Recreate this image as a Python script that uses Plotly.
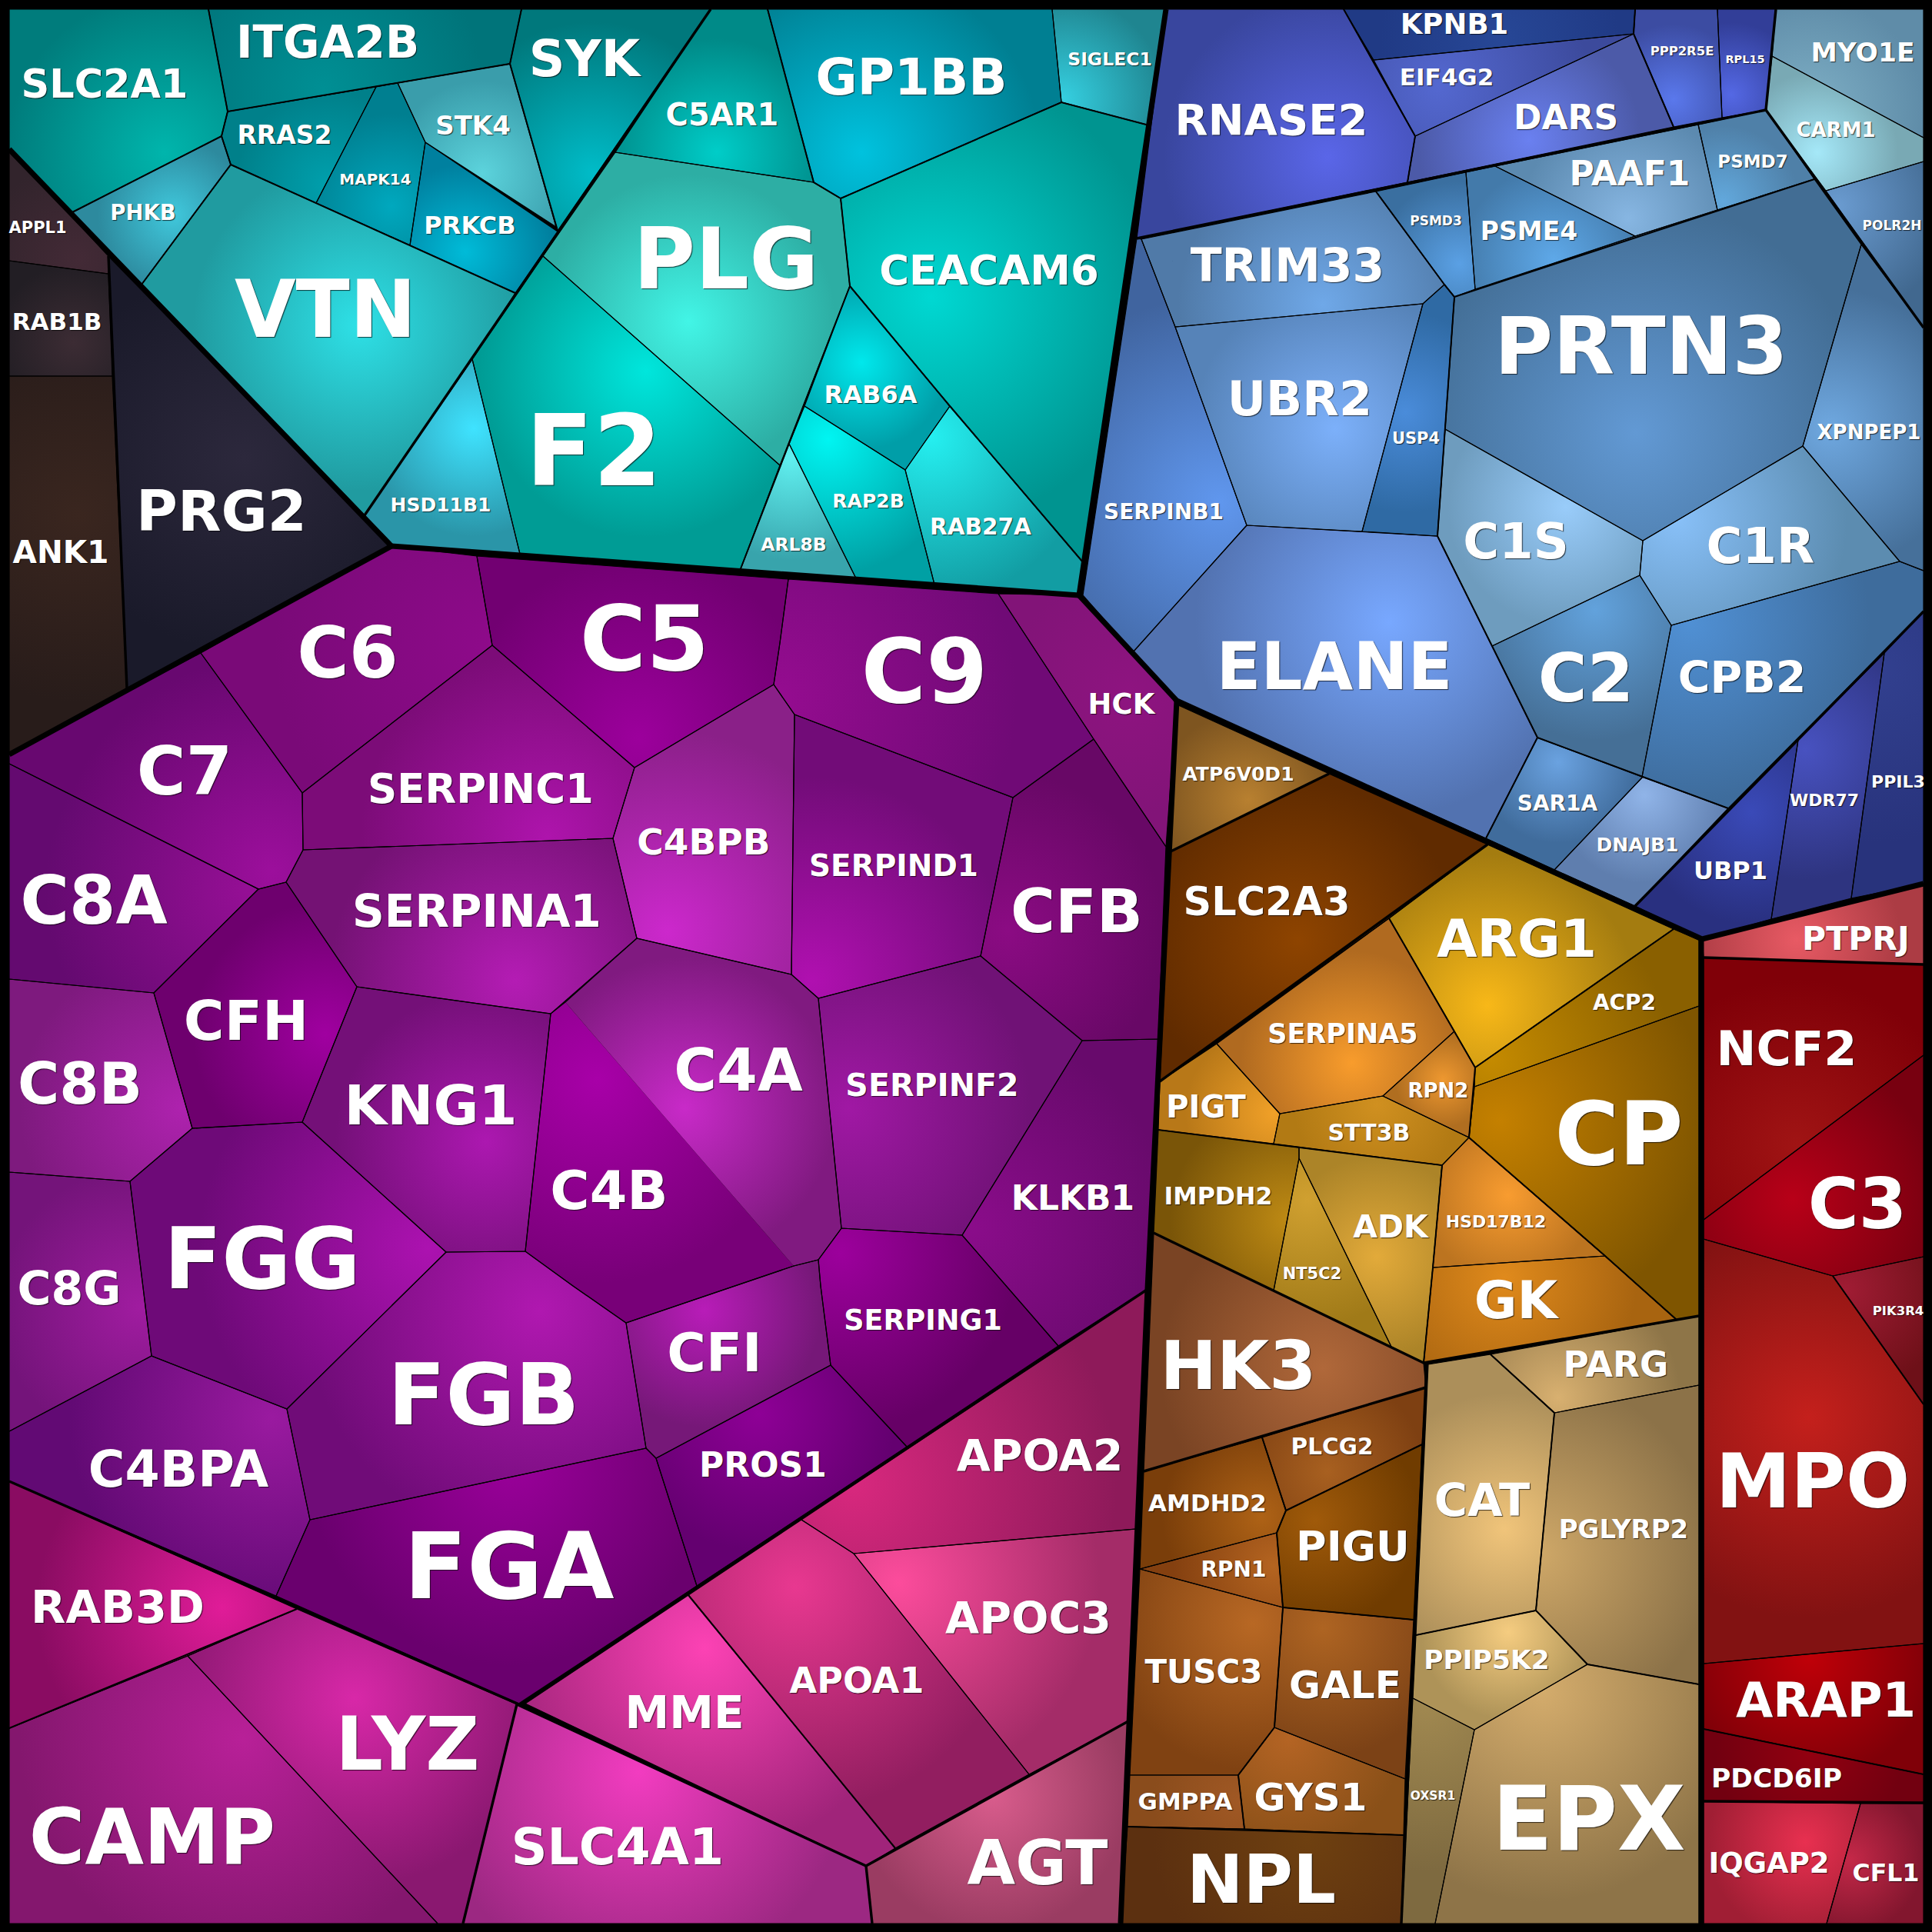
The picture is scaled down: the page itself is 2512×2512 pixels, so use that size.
import numpy as np
import plotly.graph_objects as go

# Voronoi treemap: every cell is stored as its vertices, in reference pixels
outlines = {
    "SLC2A1": [(12,12),(271,12),(296,145),(288,177),(94,276),(12,194)],
    "ITGA2B": [(271,12),(678,12),(663,83),(296,145)],
    "SYK": [(678,12),(924,12),(725,300),(663,83)],
    "STK4": [(517,108),(663,83),(723,295),(553,185)],
    "MAPK14": [(489,113),(517,108),(553,185),(533,319),(411,264)],
    "RRAS2": [(296,145),(489,113),(411,264),(300,214),(288,177)],
    "PRKCB": [(553,185),(725,301),(670,381),(533,319)],
    "PHKB": [(288,177),(300,214),(184,370),(94,276)],
    "VTN": [(300,214),(411,264),(533,319),(670,381),(614,467),(474,670),(184,370)],
    "HSD11B1": [(614,467),(676,720),(509,710),(474,670)],
    "APPL1": [(12,194),(141,333),(141,356),(12,339)],
    "RAB1B": [(12,339),(141,356),(146,489),(12,489)],
    "ANK1": [(12,489),(146,489),(165,895),(12,981)],
    "PRG2": [(141,333),(509,710),(165,895)],
    "C5AR1": [(924,12),(998,12),(1058,237),(800,198)],
    "GP1BB": [(998,12),(1368,12),(1380,133),(1093,258),(1058,237)],
    "SIGLEC1": [(1368,12),(1516,12),(1494,163),(1380,133)],
    "CEACAM6": [(1093,258),(1380,133),(1494,163),(1408,731),(1235,528),(1105,372)],
    "PLG": [(800,198),(1058,237),(1093,258),(1105,372),(1014,605),(706,333)],
    "F2": [(706,333),(1014,605),(962,742),(676,720),(614,467)],
    "RAB6A": [(1105,372),(1235,528),(1177,611),(1046,528)],
    "RAP2B": [(1046,528),(1177,611),(1215,760),(1113,752),(1026,577)],
    "ARL8B": [(1026,577),(1113,752),(962,742)],
    "RAB27A": [(1235,528),(1408,731),(1403,774),(1215,760),(1177,611)],
    "RNASE2": [(1516,12),(1747,12),(1840,177),(1830,237),(1478,310)],
    "KPNB1": [(1747,12),(2126,12),(2124,44),(1786,78)],
    "EIF4G2": [(1786,78),(2124,44),(1840,177)],
    "DARS": [(1840,177),(2124,44),(2176,165),(1830,237)],
    "PPP2R5E": [(2126,12),(2233,12),(2239,153),(2176,165),(2124,44)],
    "RPL15": [(2233,12),(2309,12),(2296,143),(2239,153)],
    "MYO1E": [(2309,12),(2501,12),(2501,179),(2304,73)],
    "CARM1": [(2304,73),(2501,179),(2501,210),(2374,248),(2296,143)],
    "POLR2H": [(2374,248),(2501,210),(2501,426)],
    "PAAF1": [(2208,162),(2233,273),(2126,307),(1944,216)],
    "PSMD7": [(2208,162),(2296,143),(2359,233),(2233,273)],
    "PSME4": [(1944,216),(2126,307),(1918,376),(1906,224)],
    "PSMD3": [(1789,249),(1906,224),(1918,376),(1891,386),(1878,370)],
    "TRIM33": [(1484,311),(1789,249),(1878,370),(1850,395),(1528,425)],
    "UBR2": [(1528,425),(1850,395),(1771,691),(1621,683)],
    "USP4": [(1850,395),(1878,370),(1891,386),(1869,697),(1771,691)],
    "SERPINB1": [(1478,310),(1484,311),(1528,425),(1621,683),(1473,848),(1408,774)],
    "ELANE": [(1621,683),(1869,697),(1940,840),(1999,959),(1932,1090),(1530,911),(1473,848)],
    "SAR1A": [(1999,959),(2136,1010),(2021,1131),(1932,1090)],
    "DNAJB1": [(2136,1010),(2247,1051),(2126,1178),(2021,1131)],
    "C2": [(1940,840),(2132,748),(2173,813),(2135,1010),(1999,959)],
    "CPB2": [(2173,813),(2470,730),(2501,742),(2501,795),(2247,1051),(2135,1010)],
    "C1S": [(1879,558),(2136,703),(2132,748),(1940,840),(1869,697)],
    "C1R": [(2136,703),(2344,580),(2470,730),(2173,813),(2132,748)],
    "XPNPEP1": [(2420,318),(2501,426),(2501,742),(2470,730),(2344,580)],
    "PRTN3": [(1891,386),(2126,307),(2233,273),(2359,233),(2420,318),(2344,580),(2136,703),(1879,558)],
    "UBP1": [(2338,962),(2303,1195),(2213,1221),(2126,1178)],
    "WDR77": [(2338,962),(2450,849),(2407,1168),(2303,1195)],
    "PPIL3": [(2450,849),(2501,795),(2501,1149),(2407,1168)],
    "PTPRJ": [(2213,1221),(2501,1149),(2501,1254),(2215,1245)],
    "NCF2": [(2215,1245),(2501,1254),(2501,1372),(2215,1586)],
    "C3": [(2215,1586),(2501,1372),(2501,1634),(2383,1659),(2215,1611)],
    "PIK3R4": [(2383,1659),(2501,1634),(2501,1826)],
    "MPO": [(2215,1611),(2383,1659),(2501,1826),(2501,2137),(2215,2163)],
    "ARAP1": [(2215,2163),(2501,2137),(2501,2307),(2215,2248)],
    "PDCD6IP": [(2215,2248),(2501,2307),(2501,2344),(2215,2342)],
    "IQGAP2": [(2215,2342),(2419,2345),(2375,2501),(2215,2501)],
    "CFL1": [(2419,2345),(2501,2345),(2501,2501),(2375,2501)],
    "ATP6V0D1": [(1530,916),(1728,1006),(1522,1107)],
    "SLC2A3": [(1522,1107),(1728,1006),(1934,1098),(1806,1194),(1508,1406)],
    "PIGT": [(1508,1406),(1582,1357),(1664,1448),(1656,1487),(1506,1469)],
    "SERPINA5": [(1582,1357),(1806,1194),(1891,1341),(1798,1425),(1664,1448)],
    "ARG1": [(1806,1194),(1934,1098),(2176,1208),(1918,1388)],
    "ACP2": [(2176,1208),(2209,1222),(2209,1308),(1917,1413),(1918,1388)],
    "CP": [(1917,1413),(2209,1308),(2209,1711),(2180,1716),(2087,1633),(1910,1479)],
    "RPN2": [(1891,1341),(1918,1388),(1917,1413),(1910,1479),(1798,1425)],
    "STT3B": [(1664,1448),(1798,1425),(1910,1479),(1875,1515),(1656,1487)],
    "HSD17B12": [(1910,1479),(2087,1633),(1863,1648),(1875,1515)],
    "GK": [(1863,1648),(2087,1633),(2180,1716),(1851,1772)],
    "IMPDH2": [(1506,1469),(1689,1492),(1689,1506),(1656,1678),(1500,1603)],
    "NT5C2": [(1689,1506),(1809,1751),(1656,1678)],
    "ADK": [(1689,1492),(1875,1515),(1863,1648),(1851,1772),(1809,1751),(1689,1506)],
    "HK3": [(1500,1603),(1851,1772),(1854,1804),(1487,1913)],
    "PLCG2": [(1641,1869),(1854,1804),(1849,1878),(1672,1964)],
    "AMDHD2": [(1487,1913),(1641,1869),(1672,1964),(1660,1993),(1482,2040)],
    "RPN1": [(1482,2040),(1660,1993),(1668,2090)],
    "PIGU": [(1672,1964),(1849,1878),(1838,2106),(1668,2090),(1660,1993)],
    "TUSC3": [(1482,2040),(1668,2090),(1657,2246),(1610,2308),(1469,2308)],
    "GALE": [(1668,2090),(1838,2106),(1827,2313),(1657,2246)],
    "GYS1": [(1657,2246),(1827,2313),(1825,2386),(1618,2378),(1610,2308)],
    "GMPPA": [(1469,2308),(1610,2308),(1618,2378),(1466,2375)],
    "NPL": [(1466,2375),(1618,2378),(1825,2386),(1822,2501),(1457,2501)],
    "PARG": [(1938,1761),(2209,1711),(2209,1801),(2021,1837)],
    "CAT": [(1857,1774),(1938,1761),(2021,1837),(1997,2094),(1841,2126)],
    "PGLYRP2": [(2021,1837),(2209,1801),(2209,2190),(2064,2164),(1997,2094)],
    "PPIP5K2": [(1841,2126),(1997,2094),(2064,2164),(1917,2249),(1837,2208)],
    "OXSR1": [(1837,2208),(1917,2249),(1866,2501),(1822,2501)],
    "EPX": [(1917,2249),(2064,2164),(2209,2190),(2209,2501),(1866,2501)],
    "C6": [(509,710),(620,723),(640,839),(393,1031),(261,849)],
    "C5": [(620,723),(1025,753),(1014,836),(1006,890),(825,998),(640,839)],
    "C9": [(1025,753),(1298,772),(1422,961),(1317,1037),(1033,929),(1006,890),(1014,836)],
    "HCK": [(1298,772),(1403,774),(1530,911),(1516,1101),(1422,961)],
    "CFB": [(1422,961),(1516,1101),(1506,1351),(1407,1353),(1275,1243),(1317,1037)],
    "SERPIND1": [(1033,929),(1317,1037),(1275,1243),(1064,1298),(1029,1267)],
    "C4BPB": [(825,998),(1006,890),(1033,929),(1029,1267),(828,1220),(797,1090)],
    "SERPINC1": [(393,1031),(640,839),(825,998),(797,1090),(394,1105)],
    "C7": [(261,849),(393,1031),(394,1105),(372,1147),(336,1156),(12,993),(12,981)],
    "SERPINA1": [(394,1105),(797,1090),(828,1220),(716,1318),(464,1283),(372,1147)],
    "C8A": [(12,993),(336,1156),(200,1291),(12,1273)],
    "CFH": [(336,1156),(372,1147),(464,1283),(393,1459),(250,1467),(200,1291)],
    "C8B": [(12,1273),(200,1291),(250,1467),(169,1536),(12,1524)],
    "KNG1": [(464,1283),(716,1318),(683,1627),(580,1628),(393,1459)],
    "FGG": [(250,1467),(393,1459),(580,1628),(373,1832),(197,1763),(169,1536)],
    "C8G": [(12,1524),(169,1536),(197,1763),(12,1861)],
    "C4BPA": [(12,1861),(197,1763),(373,1832),(403,1976),(359,2075),(12,1926)],
    "FGB": [(580,1628),(683,1627),(745,1672),(814,1720),(840,1883),(403,1976),(373,1832)],
    "FGA": [(403,1976),(840,1883),(853,1896),(906,2062),(675,2216),(359,2075)],
    # first and last vertex of C4A and C4B close along the edge that has no stroke
    "C4B": [(1032,1646),(814,1720),(745,1672),(683,1627),(716,1318),(735,1303)],
    "C4A": [(735,1303),(828,1220),(1029,1267),(1064,1298),(1094,1597),(1064,1638),(1032,1646)],
    "SERPINF2": [(1064,1298),(1275,1243),(1407,1353),(1251,1606),(1094,1597)],
    "KLKB1": [(1407,1353),(1506,1351),(1492,1676),(1376,1750),(1251,1606)],
    "SERPING1": [(1094,1597),(1251,1606),(1376,1750),(1179,1881),(1080,1775),(1067,1672),(1064,1638)],
    "CFI": [(1032,1646),(1064,1638),(1067,1672),(1080,1775),(853,1896),(840,1883),(814,1720)],
    "PROS1": [(853,1896),(1080,1775),(1179,1881),(906,2062)],
    "APOA2": [(1491,1677),(1477,1988),(1110,2020),(1042,1976)],
    "APOC3": [(1110,2020),(1477,1988),(1467,2238),(1338,2307)],
    "APOA1": [(1042,1976),(1110,2020),(1338,2307),(1164,2403),(895,2074)],
    "MME": [(895,2074),(1164,2403),(1126,2426),(683,2215)],
    "SLC4A1": [(672,2216),(1126,2426),(1134,2501),(602,2501)],
    "AGT": [(1126,2426),(1467,2238),(1457,2501),(1134,2501)],
    "RAB3D": [(12,1926),(386,2092),(244,2153),(12,2247)],
    "LYZ": [(386,2092),(672,2216),(602,2501),(569,2501),(244,2153)],
    "CAMP": [(12,2247),(244,2153),(569,2501),(12,2501)],
}

# where each cell's radial shading peaks
glow_pos = {
    "SLC2A1": (214,198), "ITGA2B": (420,115), "SYK": (771,225), "STK4": (627,225), "MAPK14": (509,268),
    "RRAS2": (428,241), "PRKCB": (605,327), "PHKB": (225,279), "VTN": (466,423), "HSD11B1": (616,557),
    "APPL1": (102,337), "RAB1B": (96,445), "ANK1": (102,670), "PRG2": (316,595), "C5AR1": (932,198),
    "GP1BB": (1120,198), "SIGLEC1": (1382,129), "CEACAM6": (1211,386), "PLG": (895,418), "F2": (840,482),
    "RAB6A": (1120,471), "RAP2B": (1077,571), "ARL8B": (1029,595), "RAB27A": (1211,568),
    "RNASE2": (1726,204), "KPNB1": (1950,50), "EIF4G2": (1870,112), "DARS": (1988,182), "PPP2R5E": (2176,129),
    "RPL15": (2251,123), "MYO1E": (2352,145), "CARM1": (2363,198), "POLR2H": (2390,268), "PAAF1": (2117,284),
    "PSMD7": (2240,262), "PSME4": (2020,337), "PSMD3": (1897,343), "TRIM33": (1720,396), "UBR2": (1736,557),
    "USP4": (1827,536), "SERPINB1": (1586,653), "ELANE": (1806,809), "SAR1A": (2026,991), "DNAJB1": (2138,1034),
    "C2": (2074,793), "CPB2": (2197,809), "C1S": (2036,659), "C1R": (2181,675), "XPNPEP1": (2379,557),
    "PRTN3": (2127,562), "UBP1": (2277,1056), "WDR77": (2347,975), "PPIL3": (2440,870),
    "PTPRJ": (2336,1222), "NCF2": (2336,1489), "C3": (2331,1559), "PIK3R4": (2400,1677), "MPO": (2352,1843),
    "ARAP1": (2352,2154), "PDCD6IP": (2352,2280), "IQGAP2": (2347,2395), "CFL1": (2406,2417),
    "ATP6V0D1": (1623,1040), "SLC2A3": (1688,1222), "PIGT": (1656,1447), "SERPINA5": (1758,1382), "ARG1": (1934,1307),
    "ACP2": (1940,1377), "CP": (1950,1457), "RPN2": (1876,1404), "STT3B": (1790,1436), "HSD17B12": (1961,1554),
    "GK": (1956,1661), "IMPDH2": (1676,1586), "NT5C2": (1700,1560), "ADK": (1790,1634), "HK3": (1720,1779),
    "PLCG2": (1726,1913), "AMDHD2": (1640,1972), "RPN1": (1656,2036), "PIGU": (1710,1977), "TUSC3": (1629,2111),
    "GALE": (1720,2117), "GYS1": (1676,2261), "GMPPA": (1610,2342), "NPL": (1700,2390),
    "PARG": (2026,1817), "CAT": (1956,1988), "PGLYRP2": (1999,2020), "PPIP5K2": (1961,2122), "OXSR1": (1854,2218),
    "EPX": (2004,2197), "C6": (640,840), "C5": (830,960), "C9": (1010,905), "HCK": (1470,900), "CFB": (1310,1210),
    "SERPIND1": (1056,1275), "C4BPB": (868,1211), "SERPINC1": (712,1088), "C7": (354,1133), "SERPINA1": (670,1275),
    "C8A": (321,1157), "CFH": (423,1345), "C8B": (236,1441), "KNG1": (632,1484), "FGG": (557,1623), "C8G": (182,1700),
    "C4BPA": (354,1843), "FGB": (702,1704), "FGA": (664,1902), "C4B": (777,1404), "C4A": (890,1441),
    "SERPINF2": (1104,1441), "KLKB1": (1264,1596), "SERPING1": (1093,1629), "CFI": (916,1704), "PROS1": (986,1838),
    "APOA2": (1109,1929), "APOC3": (1168,2058), "APOA1": (1034,2063), "MME": (916,2143), "SLC4A1": (830,2304),
    "AGT": (1291,2336), "RAB3D": (289,2090), "LYZ": (461,2208), "CAMP": (316,2261),
}

# colour at the peak, colour at the far rim
glow_color = {
    "SLC2A1": ("#00B5AC","#007C7C"), "ITGA2B": ("#008F94","#00747A"), "SYK": ("#00BCC8","#00787C"),
    "STK4": ("#5CD3DC","#3A9DAB"), "MAPK14": ("#00A8BE","#007F90"), "RRAS2": ("#00A0AD","#00808A"),
    "PRKCB": ("#00BBD8","#00809F"), "PHKB": ("#40C8DC","#2D8A9E"), "VTN": ("#2EE0E6","#209BA0"),
    "HSD11B1": ("#3FE3FF","#2A95A8"), "APPL1": ("#432A36","#32242C"), "RAB1B": ("#3C2C34","#221E24"),
    "ANK1": ("#3A261F","#281C1A"), "PRG2": ("#2C283C","#1A1A2A"), "C5AR1": ("#00CDC8","#008A88"),
    "GP1BB": ("#00C2DE","#007F92"), "SIGLEC1": ("#35CFE0","#1F8590"), "CEACAM6": ("#00D8D2","#009490"),
    "PLG": ("#42F5E6","#2DAEA4"), "F2": ("#00E6DC","#009C95"), "RAB6A": ("#00E8EC","#009EA8"),
    "RAP2B": ("#00F5F2","#00A0A4"), "ARL8B": ("#60F0F0","#38A4AC"), "RAB27A": ("#25EFF0","#129DA3"),
    "RNASE2": ("#5A66E8","#39469E"), "KPNB1": ("#274796","#203A85"), "EIF4G2": ("#5468D0","#3C4A9C"),
    "DARS": ("#6A80F0","#4C5AA8"), "PPP2R5E": ("#5A78EC","#3C4CA2"), "RPL15": ("#5468E4","#323E98"),
    "MYO1E": ("#7FB0C6","#5F8CA8"), "CARM1": ("#A5E8F8","#79A9B4"), "POLR2H": ("#6A9BD0","#41688F"),
    "PAAF1": ("#87B6E2","#5C8AB0"), "PSMD7": ("#62A8DC","#4F80A8"), "PSME4": ("#5EA8E8","#437AAA"),
    "PSMD3": ("#5AA0E4","#3A6FA0"), "TRIM33": ("#6FA8E8","#507AA8"), "UBR2": ("#7CB0FA","#5683B8"),
    "USP4": ("#4A8CDA","#2F6AA4"), "SERPINB1": ("#6097EE","#40649F"), "ELANE": ("#78A8FF","#5272B0"),
    "SAR1A": ("#6AA2E0","#406C9C"), "DNAJB1": ("#90B4E8","#5F7EAE"), "C2": ("#62A2DC","#456F96"),
    "CPB2": ("#5090D4","#3E6C9C"), "C1S": ("#99CCFA","#6E9CBE"), "C1R": ("#88C0F8","#5C8CB0"),
    "XPNPEP1": ("#6FA8E0","#46709A"), "PRTN3": ("#6299D4","#426D94"), "UBP1": ("#3A4AB8","#293080"),
    "WDR77": ("#4852C0","#2E3480"), "PPIL3": ("#32408F","#28337C"), "PTPRJ": ("#E85A64","#AC3C44"),
    "NCF2": ("#A01414","#800008"), "C3": ("#B80018","#780010"), "PIK3R4": ("#A01C34","#6E1018"),
    "MPO": ("#C4201C","#821212"), "ARAP1": ("#C00008","#800008"), "PDCD6IP": ("#920010","#720010"),
    "IQGAP2": ("#E83050","#A01E34"), "CFL1": ("#C42848","#82162E"), "ATP6V0D1": ("#B88030","#7E5520"),
    "SLC2A3": ("#8E4400","#602B00"), "PIGT": ("#F0A028","#B87818"), "SERPINA5": ("#F89C2C","#B06A20"),
    "ARG1": ("#F8B818","#A47C10"), "ACP2": ("#C48A00","#8A6000"), "CP": ("#C48000","#7F5500"),
    "RPN2": ("#EE9830","#B06E20"), "STT3B": ("#D09020","#B27A14"), "HSD17B12": ("#F89C30","#BC7420"),
    "GK": ("#E08A1C","#A86410"), "IMPDH2": ("#BE8A14","#7A5508"), "NT5C2": ("#D0A030","#A07A18"),
    "ADK": ("#E2AA3A","#AC8428"), "HK3": ("#B0683A","#7A4424"), "PLCG2": ("#A86020","#7E4012"),
    "AMDHD2": ("#AE6216","#7A3E0A"), "RPN1": ("#B46420","#844010"), "PIGU": ("#A05A0A","#703C00"),
    "TUSC3": ("#B86824","#804212"), "GALE": ("#AE6422","#7C4216"), "GYS1": ("#B46424","#8A5018"),
    "GMPPA": ("#A05824","#8A4C1C"), "NPL": ("#6E4010","#5C3010"), "PARG": ("#D8B070","#8E7548"),
    "CAT": ("#F0C47A","#AC8F5A"), "PGLYRP2": ("#CFA868","#8C7248"), "PPIP5K2": ("#F5CC80","#AE9358"),
    "OXSR1": ("#A08850","#7E6A40"), "EPX": ("#D4AC6C","#8E7448"), "C6": ("#8E0A8A","#7A0A78"),
    "C5": ("#9C009C","#720072"), "C9": ("#950C90","#700A76"), "HCK": ("#8E1480","#821478"),
    "CFB": ("#8B0B83","#680866"), "SERPIND1": ("#B010B0","#720C78"), "C4BPB": ("#CC28CC","#8A2088"),
    "SERPINC1": ("#AE14AC","#7C0C78"), "C7": ("#9C0F9C","#680870"), "SERPINA1": ("#B41CB4","#741274"),
    "C8A": ("#950F95","#640A70"), "CFH": ("#A000A0","#6E006E"), "C8B": ("#AE22AE","#7E1A7E"),
    "KNG1": ("#AC18B0","#741078"), "FGG": ("#AC12B0","#6E0A78"), "C8G": ("#A01CA0","#74147A"),
    "C4BPA": ("#9A1AA0","#620A74"), "FGB": ("#B018B0","#700C78"), "FGA": ("#9A009A","#6A006E"),
    "C4B": ("#A800A8","#780078"), "C4A": ("#C82AC8","#801A80"), "SERPINF2": ("#A018A4","#701276"),
    "KLKB1": ("#8A0C8A","#680A6C"), "SERPING1": ("#9C009C","#660066"), "CFI": ("#B81CB8","#761878"),
    "PROS1": ("#8E0096","#640070"), "APOA2": ("#D8287E","#8E1A5A"), "APOC3": ("#FC4C9C","#A42C68"),
    "APOA1": ("#E83890","#921E60"), "MME": ("#FC42B4","#A0247A"), "SLC4A1": ("#F23CC0","#9C2882"),
    "AGT": ("#D85C8C","#9A3C62"), "RAB3D": ("#E01C98","#8A0C62"), "LYZ": ("#D828A8","#8A1870"),
    "CAMP": ("#B82098","#84176E"),
}

# label centre x, centre y, font size
labels = {
    "SLC2A1": (136,109,51), "ITGA2B": (426,54,58), "SYK": (760,76,65), "STK4": (615,163,34), "RRAS2": (370,175,33),
    "MAPK14": (488,233,20), "PHKB": (186,276,27.5), "PRKCB": (611,292,32), "APPL1": (49,295,21), "RAB1B": (74,418,31),
    "VTN": (423,401,103), "PRG2": (288,664,73.5), "ANK1": (79,717,40.5), "HSD11B1": (573,656,25), "F2": (772,585,128),
    "C5AR1": (939,149,40), "GP1BB": (1185,99,66), "SIGLEC1": (1443,77,23.5), "PLG": (944,335,110), "CEACAM6": (1286,351,53),
    "RAB6A": (1132,512,32), "RAP2B": (1129,651,25), "RAB27A": (1275,684,29.5), "ARL8B": (1032,708,23.5),
    "RNASE2": (1653,155,56), "KPNB1": (1891,31,37), "EIF4G2": (1881,100,31), "DARS": (2036,152,44), "PPP2R5E": (2187,66,16.4),
    "RPL15": (2269,77,14.5), "MYO1E": (2422,68,34.5), "CARM1": (2387,169,26), "PAAF1": (2119,225,44), "PSMD7": (2279,210,23),
    "PSMD3": (1867,287,17), "PSME4": (1988,300,33), "TRIM33": (1674,344,60), "POLR2H": (2460,293,17), "PRTN3": (2134,449,104),
    "UBR2": (1690,518,62), "USP4": (1841,569,21), "XPNPEP1": (2430,562,26), "C1S": (1971,703,64), "C1R": (2289,709,64),
    "SERPINB1": (1513,665,28), "ELANE": (1735,865,85), "C2": (2062,881,87), "CPB2": (2265,880,57), "SAR1A": (2025,1044,28),
    "DNAJB1": (2129,1098,25), "UBP1": (2250,1131,32), "WDR77": (2372,1040,22), "PPIL3": (2468,1016,22), "PTPRJ": (2413,1220,42.5),
    "NCF2": (2323,1363,62), "C3": (2415,1565,90), "PIK3R4": (2468,1704,16.5), "MPO": (2357,1925,98), "ARAP1": (2374,2209,62.5),
    "PDCD6IP": (2310,2312,34.5), "IQGAP2": (2300,2422,37), "CFL1": (2452,2435,31.6), "ATP6V0D1": (1610,1006,25),
    "SLC2A3": (1647,1172,51), "ARG1": (1972,1220,68), "ACP2": (2112,1303,28), "SERPINA5": (1746,1343,35), "RPN2": (1870,1418,26),
    "PIGT": (1568,1439,40), "STT3B": (1780,1472,30), "CP": (2105,1473,114), "IMPDH2": (1584,1555,31.6), "ADK": (1808,1594,41),
    "HSD17B12": (1945,1588,22), "NT5C2": (1706,1655,21), "GK": (1971,1690,68), "HK3": (1610,1774,88), "PARG": (2101,1774,45.5),
    "PLCG2": (1732,1880,29.5), "AMDHD2": (1570,1954,31), "PIGU": (1759,2010,54), "RPN1": (1604,2040,28), "TUSC3": (1565,2173,42),
    "GALE": (1749,2190,50), "GYS1": (1704,2336,50), "GMPPA": (1541,2342,31), "NPL": (1640,2442,88), "CAT": (1927,1950,59),
    "PGLYRP2": (2111,1988,34), "PPIP5K2": (1933,2158,34.5), "OXSR1": (1863,2334,15.5), "EPX": (2066,2364,115),
    "C6": (452,848,92), "C5": (838,829,118), "C9": (1202,872,115), "HCK": (1458,915,37), "C7": (240,1002,87), "SERPINC1": (625,1025,53),
    "C4BPB": (915,1094,47), "SERPIND1": (1162,1125,39), "CFB": (1400,1184,79), "C8A": (122,1170,87), "SERPINA1": (620,1184,58),
    "CFH": (320,1326,72), "C4A": (960,1391,76), "SERPINF2": (1212,1410,41), "C8B": (104,1408,74), "KNG1": (560,1436,72),
    "KLKB1": (1395,1557,44), "C4B": (792,1547,70), "FGG": (341,1635,110), "C8G": (90,1674,60), "SERPING1": (1200,1716,36.5),
    "CFI": (929,1758,69), "FGB": (629,1812,110), "C4BPA": (232,1910,65), "PROS1": (992,1904,44), "FGA": (662,2035,120),
    "APOA2": (1352,1892,57), "APOC3": (1337,2103,57), "APOA1": (1114,2184,46), "RAB3D": (153,2089,59), "MME": (890,2226,58),
    "LYZ": (530,2266,97), "SLC4A1": (803,2401,65), "CAMP": (198,2387,99), "AGT": (1349,2421,81),
}

# heavier dividers between the top-level clusters, then groups, then sub-groups
cluster_lines = [
    [(12,194),(509,710),(12,981)],
    [(509,710),(1403,774),(1516,12)],
    [(1403,774),(1530,911),(2213,1221),(2501,1149)],
    [(1530,911),(1492,1676),(1457,2501)],
    [(2212,1221),(2212,2501)],
]
group_lines = [
    [(141,333),(165,895)],
    [(924,12),(474,670)],
    [(1478,310),(2296,143),(2501,426)],
    [(2309,12),(2296,143)],
    [(2501,795),(2126,1178)],
    [(2215,1245),(2501,1254)],
    [(2215,2342),(2501,2344)],
    [(1522,1107),(1728,1006)],
    [(1508,1406),(1934,1098)],
    [(1500,1603),(1851,1772),(2209,1711)],
    [(1855,1772),(1822,2501)],
    [(1854,1804),(1487,1913)],
    [(602,2501),(672,2216),(1126,2426),(1467,2238)],
    [(1126,2426),(1134,2501)],
    [(12,1926),(675,2216),(1491,1677)],
]
subgroup_lines = [
    [(1506,1469),(1875,1515),(1863,1648),(1851,1772)],
    [(1747,12),(1840,177),(1830,237)],
    [(2126,12),(2124,44),(2176,165)],
    [(1789,249),(1878,370),(1891,386),(1869,697),(1940,840),(1999,959),(1932,1090)],
    [(1891,386),(2359,233)],
    [(1105,372),(1235,528),(1408,731)],
    [(1105,372),(962,742)],
    [(998,12),(1058,237),(1093,258),(1105,372)],
    [(1093,258),(1380,133),(1494,163)],
    [(300,214),(670,381)],
    [(296,145),(663,83),(725,300)],
    [(94,276),(288,177),(300,214),(184,370)],
    [(271,12),(296,145),(288,177)],
    [(678,12),(663,83)],
    [(2383,1659),(2501,1826)],
    [(1806,1194),(1918,1388),(1910,1479),(2087,1633),(2180,1716)],
    [(1918,1388),(2176,1208)],
    [(895,2074),(1164,2403)],
    [(1672,1964),(1849,1878)],
    [(1668,2090),(1838,2106)],
    [(1641,1869),(1672,1964),(1660,1993),(1668,2090),(1657,2246),(1610,2308),(1618,2378)],
    [(1466,2375),(1825,2386)],
    [(2136,1010),(2247,1051)],
    [(1999,959),(2136,1010)],
    [(2215,2248),(2501,2307)],
    [(386,2092),(12,2247)],
    [(1938,1761),(2021,1837),(1997,2094),(2064,2164),(2209,2190)],
    [(1841,2126),(1997,2094)],
]

open_cells = {"C4A", "C4B"}

# the rim colour is already reached this far out along the radius
RIM_STOP = 0.75
# plotly sets "middle" text a little high for capitals
TEXT_DROP = 0.11


def polyline_xy(lines):
    xs, ys = [], []
    for line in lines:
        xs += [p[0] for p in line] + [None]
        ys += [p[1] for p in line] + [None]
    return xs, ys


fig = go.Figure()

for gene, verts in outlines.items():
    pts = np.array(verts, dtype=float)
    cx, cy = glow_pos[gene]
    radius = np.hypot(pts[:, 0] - cx, pts[:, 1] - cy).max()
    x0, y0 = verts[0]
    # two zero-area spurs stretch the path's box so the radial fill centres on the glow point
    path_x = [x0, cx - radius, x0, cx + radius, x0] + [p[0] for p in verts[1:]] + [x0]
    path_y = [y0, cy - radius, y0, cy + radius, y0] + [p[1] for p in verts[1:]] + [y0]
    peak, rim = glow_color[gene]
    fig.add_trace(go.Scatter(
        x=path_x, y=path_y, mode="lines", fill="toself",
        line=dict(width=0, simplify=False),
        fillgradient=dict(type="radial", colorscale=[[0, peak], [RIM_STOP, rim], [1, rim]]),
        hoverinfo="skip", showlegend=False,
    ))

thin = [v + [v[0]] if g not in open_cells else v for g, v in outlines.items()]
for lines, width in [(thin, 1.2), (subgroup_lines, 2), (group_lines, 3.4), (cluster_lines, 7)]:
    xs, ys = polyline_xy(lines)
    fig.add_trace(go.Scatter(x=xs, y=ys, mode="lines", line=dict(color="black", width=width, simplify=False),
                             hoverinfo="skip", showlegend=False))

fig.add_trace(go.Scatter(
    x=[labels[g][0] for g in labels],
    y=[labels[g][1] + TEXT_DROP * labels[g][2] for g in labels],
    text=list(labels), mode="text", textposition="middle center",
    textfont=dict(family="DejaVu Sans", color="white", weight="bold",
                  size=[labels[g][2] for g in labels], shadow="1px 1px 1px rgba(0,0,0,0.7)"),
    hoverinfo="skip", showlegend=False,
))

fig.update_layout(
    width=2512, height=2512, margin=dict(l=0, r=0, t=0, b=0),
    paper_bgcolor="black", plot_bgcolor="black", showlegend=False,
    xaxis=dict(range=[0, 2512], visible=False, fixedrange=True),
    yaxis=dict(range=[2512, 0], visible=False, fixedrange=True),
)

fig.write_html("out.html", config={"displayModeBar": False},
               post_script="document.body.style.margin='0';document.body.style.background='black';")
